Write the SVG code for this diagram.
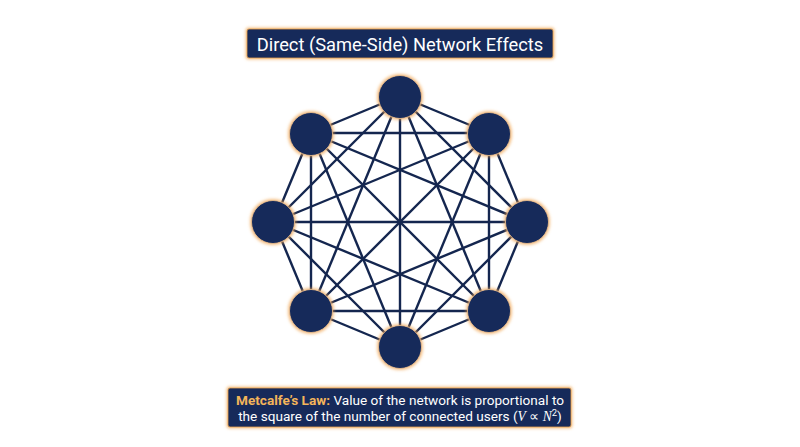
<svg xmlns="http://www.w3.org/2000/svg" width="800" height="447" viewBox="0 0 800 447">
<defs>
<filter id="halo" x="-30%" y="-30%" width="160%" height="160%">
<feMorphology in="SourceAlpha" operator="dilate" radius="0.6" result="d"/>
<feGaussianBlur in="d" stdDeviation="1.4" result="b"/>
<feFlood flood-color="#f0a24a" flood-opacity="0.7" result="c"/>
<feComposite in="c" in2="b" operator="in" result="g"/>
<feMerge><feMergeNode in="g"/><feMergeNode in="SourceGraphic"/></feMerge>
</filter>
</defs>
<style>
.node{fill:#14295a;stroke:#f2c48f;stroke-width:0.8;filter:url(#halo)}
.edge{stroke:#14264f;stroke-width:2.4;fill:none}
.box{fill:#14295a;stroke:#e9a34f;stroke-width:0.8;filter:url(#halo)}
.t{font-family:Roboto,"Liberation Sans",sans-serif;fill:#ffffff}
.law{fill:#f3b55a;font-weight:bold}
.m{font-family:"Liberation Serif","DejaVu Serif",serif;font-style:italic}
</style>
<rect width="800" height="447" fill="#ffffff"/>
<g id="title">
<rect class="box" x="247" y="29" width="306" height="29" rx="2"/>
<text class="t" x="400" y="50.5" font-size="18.3" text-anchor="middle">Direct (Same-Side) Network Effects</text>
</g>
<g id="connectors">
<line class="edge" x1="400" y1="96" x2="489" y2="133"/>
<line class="edge" x1="400" y1="96" x2="526" y2="222"/>
<line class="edge" x1="400" y1="96" x2="489" y2="311"/>
<line class="edge" x1="400" y1="96" x2="400" y2="348"/>
<line class="edge" x1="400" y1="96" x2="311" y2="311"/>
<line class="edge" x1="400" y1="96" x2="274" y2="222"/>
<line class="edge" x1="400" y1="96" x2="311" y2="133"/>
<line class="edge" x1="489" y1="133" x2="526" y2="222"/>
<line class="edge" x1="489" y1="133" x2="489" y2="311"/>
<line class="edge" x1="489" y1="133" x2="400" y2="348"/>
<line class="edge" x1="489" y1="133" x2="311" y2="311"/>
<line class="edge" x1="489" y1="133" x2="274" y2="222"/>
<line class="edge" x1="489" y1="133" x2="311" y2="133"/>
<line class="edge" x1="526" y1="222" x2="489" y2="311"/>
<line class="edge" x1="526" y1="222" x2="400" y2="348"/>
<line class="edge" x1="526" y1="222" x2="311" y2="311"/>
<line class="edge" x1="526" y1="222" x2="274" y2="222"/>
<line class="edge" x1="526" y1="222" x2="311" y2="133"/>
<line class="edge" x1="489" y1="311" x2="400" y2="348"/>
<line class="edge" x1="489" y1="311" x2="311" y2="311"/>
<line class="edge" x1="489" y1="311" x2="274" y2="222"/>
<line class="edge" x1="489" y1="311" x2="311" y2="133"/>
<line class="edge" x1="400" y1="348" x2="311" y2="311"/>
<line class="edge" x1="400" y1="348" x2="274" y2="222"/>
<line class="edge" x1="400" y1="348" x2="311" y2="133"/>
<line class="edge" x1="311" y1="311" x2="274" y2="222"/>
<line class="edge" x1="311" y1="311" x2="311" y2="133"/>
<line class="edge" x1="274" y1="222" x2="311" y2="133"/>
</g>
<g id="n1"><circle class="node" cx="400" cy="97" r="21.5"/></g>
<g id="n2"><circle class="node" cx="489" cy="134" r="21.5"/></g>
<g id="n3"><circle class="node" cx="527" cy="222" r="21.5"/></g>
<g id="n4"><circle class="node" cx="489" cy="311" r="21.5"/></g>
<g id="n5"><circle class="node" cx="400" cy="347" r="21.5"/></g>
<g id="n6"><circle class="node" cx="311" cy="311" r="21.5"/></g>
<g id="n7"><circle class="node" cx="273" cy="222" r="21.5"/></g>
<g id="n8"><circle class="node" cx="311" cy="134" r="21.5"/></g>
<g id="caption">
<rect class="box" x="228" y="388" width="343" height="39" rx="2"/>
<text class="t" x="400" y="404.5" font-size="13.6" text-anchor="middle"><tspan class="law">Metcalfe’s Law:</tspan> Value of the network is proportional to</text>
<text class="t" x="400" y="420.5" font-size="13.6" text-anchor="middle">the square of the number of connected users (<tspan class="m">V</tspan> ∝ <tspan class="m">N</tspan><tspan font-size="9.5" dy="-5">2</tspan><tspan dy="5">)</tspan></text>
</g>
</svg>
